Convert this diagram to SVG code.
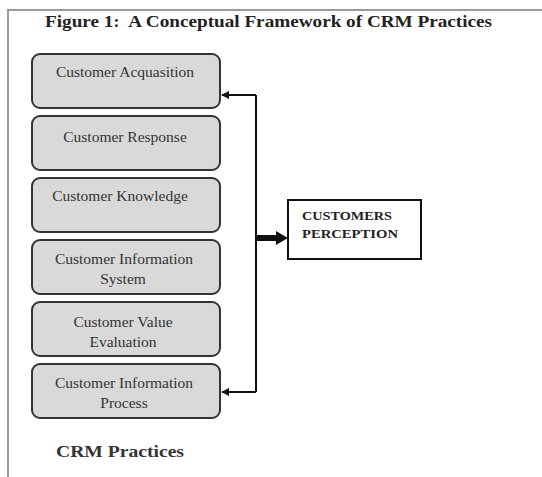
<svg xmlns="http://www.w3.org/2000/svg" width="542" height="477" viewBox="0 0 542 477">
<style>
.frame{stroke:#9a9a9a;stroke-width:2;fill:none}
.box rect{fill:#d9d9d9;stroke:#333;stroke-width:2}
.box text{font-family:"Liberation Serif",serif;font-size:15.5px;fill:#333;text-anchor:middle}
.conn{stroke:#111;stroke-width:2;fill:none}
.title{font-family:"Liberation Serif",serif;font-weight:bold;font-size:16.5px;fill:#222}
</style>
<defs>
<marker id="ah" viewBox="0 0 10 10" refX="9" refY="5" markerWidth="4" markerHeight="4" orient="auto-start-reverse">
<path d="M0,0 L10,5 L0,10 z" fill="#111"/>
</marker>
</defs>
<rect width="542" height="477" fill="#fff"/>
<path class="frame" d="M8,477 V10 H542"/>
<text class="title" x="45" y="27" textLength="447" lengthAdjust="spacingAndGlyphs" xml:space="preserve">Figure 1:  A Conceptual Framework of CRM Practices</text>
<g id="n1" class="box"><rect x="32" y="54" width="188" height="54" rx="8"/><text x="125" y="77">Customer Acquasition</text></g>
<g id="n2" class="box"><rect x="32" y="116" width="188" height="54" rx="8"/><text x="125" y="142">Customer Response</text></g>
<g id="n3" class="box"><rect x="32" y="178" width="188" height="54" rx="8"/><text x="120" y="201">Customer Knowledge</text></g>
<g id="n4" class="box"><rect x="32" y="240" width="188" height="54" rx="8"/><text x="124" y="264">Customer Information</text><text x="123" y="284">System</text></g>
<g id="n5" class="box"><rect x="32" y="302" width="188" height="54" rx="8"/><text x="123" y="327">Customer Value</text><text x="123" y="347">Evaluation</text></g>
<g id="n6" class="box"><rect x="32" y="364" width="188" height="54" rx="8"/><text x="124" y="388">Customer Information</text><text x="124" y="408">Process</text></g>
<g id="n7"><rect x="288" y="200" width="133" height="59" fill="#fff" stroke="#111" stroke-width="2"/>
<text x="302" y="220" font-family="'Liberation Serif',serif" font-weight="bold" font-size="13px" fill="#222" textLength="90" lengthAdjust="spacingAndGlyphs">CUSTOMERS</text>
<text x="302" y="238" font-family="'Liberation Serif',serif" font-weight="bold" font-size="13px" fill="#222" textLength="96" lengthAdjust="spacingAndGlyphs">PERCEPTION</text></g>
<g id="label"><text x="56" y="457" font-family="'Liberation Serif',serif" font-weight="bold" font-size="17px" fill="#333" textLength="128" lengthAdjust="spacingAndGlyphs">CRM Practices</text></g>
<g id="connectors">
<path class="conn" d="M256,95 V392" />
<path class="conn" d="M256,95 H222" marker-end="url(#ah)"/>
<path class="conn" d="M256,392 H222" marker-end="url(#ah)"/>
<path d="M257,238 H278" stroke="#111" stroke-width="6" fill="none"/>
<path d="M276,231 L288,238 L276,245 z" fill="#111"/>
</g>
</svg>
